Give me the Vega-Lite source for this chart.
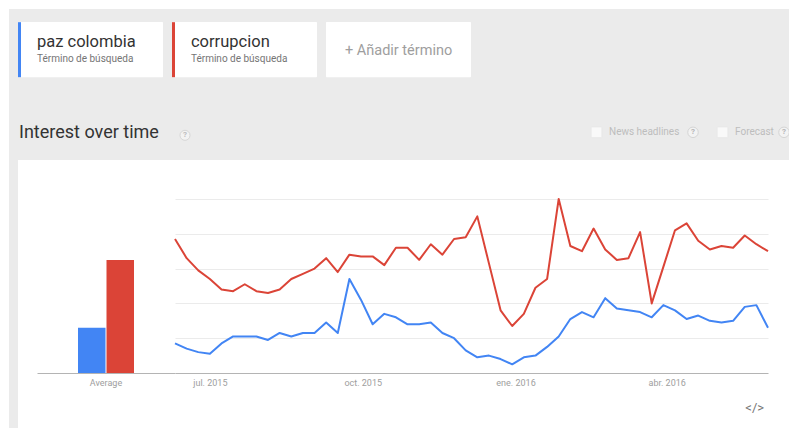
{
  "$schema": "https://vega.github.io/schema/vega-lite/v6.json",
  "background": "white",
  "padding": {"left": 9, "top": 9, "right": 0, "bottom": 0},
  "spacing": 0,
  "bounds": "flush",
  "config": {"font": "Roboto", "view": {"stroke": null}, "concat": {"spacing": 0}},
  "datasets": {
    "chips": [
      {"chip": "paz colombia", "sub": "Término de búsqueda", "kind": "term"},
      {"chip": "corrupcion", "sub": "Término de búsqueda", "kind": "term"},
      {"chip": "+ Añadir término", "sub": "", "kind": "add"}
    ],
    "average": [
      {"label": "Average", "term": "paz colombia", "avg": 26},
      {"label": "Average", "term": "corrupcion", "avg": 65}
    ],
    "weekly": [
      {"week": "2015-06-10", "paz colombia": 17, "corrupcion": 77},
      {"week": "2015-06-17", "paz colombia": 14, "corrupcion": 66},
      {"week": "2015-06-24", "paz colombia": 12, "corrupcion": 59},
      {"week": "2015-07-01", "paz colombia": 11, "corrupcion": 54},
      {"week": "2015-07-08", "paz colombia": 17, "corrupcion": 48},
      {"week": "2015-07-15", "paz colombia": 21, "corrupcion": 47},
      {"week": "2015-07-22", "paz colombia": 21, "corrupcion": 51},
      {"week": "2015-07-29", "paz colombia": 21, "corrupcion": 47},
      {"week": "2015-08-05", "paz colombia": 19, "corrupcion": 46},
      {"week": "2015-08-12", "paz colombia": 23, "corrupcion": 48},
      {"week": "2015-08-19", "paz colombia": 21, "corrupcion": 54},
      {"week": "2015-08-26", "paz colombia": 23, "corrupcion": 57},
      {"week": "2015-09-02", "paz colombia": 23, "corrupcion": 60},
      {"week": "2015-09-09", "paz colombia": 29, "corrupcion": 66},
      {"week": "2015-09-16", "paz colombia": 23, "corrupcion": 58},
      {"week": "2015-09-23", "paz colombia": 54, "corrupcion": 68},
      {"week": "2015-09-30", "paz colombia": 42, "corrupcion": 67},
      {"week": "2015-10-07", "paz colombia": 28, "corrupcion": 67},
      {"week": "2015-10-14", "paz colombia": 34, "corrupcion": 62},
      {"week": "2015-10-21", "paz colombia": 32, "corrupcion": 72},
      {"week": "2015-10-28", "paz colombia": 28, "corrupcion": 72},
      {"week": "2015-11-04", "paz colombia": 28, "corrupcion": 65},
      {"week": "2015-11-11", "paz colombia": 29, "corrupcion": 74},
      {"week": "2015-11-18", "paz colombia": 23, "corrupcion": 68},
      {"week": "2015-11-25", "paz colombia": 20, "corrupcion": 77},
      {"week": "2015-12-02", "paz colombia": 13, "corrupcion": 78},
      {"week": "2015-12-09", "paz colombia": 9, "corrupcion": 90},
      {"week": "2015-12-16", "paz colombia": 10, "corrupcion": 63},
      {"week": "2015-12-23", "paz colombia": 8, "corrupcion": 36},
      {"week": "2015-12-30", "paz colombia": 5, "corrupcion": 27},
      {"week": "2016-01-06", "paz colombia": 9, "corrupcion": 34},
      {"week": "2016-01-13", "paz colombia": 10, "corrupcion": 49},
      {"week": "2016-01-20", "paz colombia": 15, "corrupcion": 54},
      {"week": "2016-01-27", "paz colombia": 21, "corrupcion": 100},
      {"week": "2016-02-03", "paz colombia": 31, "corrupcion": 73},
      {"week": "2016-02-10", "paz colombia": 35, "corrupcion": 70},
      {"week": "2016-02-17", "paz colombia": 32, "corrupcion": 83},
      {"week": "2016-02-24", "paz colombia": 43, "corrupcion": 71},
      {"week": "2016-03-02", "paz colombia": 37, "corrupcion": 65},
      {"week": "2016-03-09", "paz colombia": 36, "corrupcion": 66},
      {"week": "2016-03-16", "paz colombia": 35, "corrupcion": 81},
      {"week": "2016-03-23", "paz colombia": 32, "corrupcion": 40},
      {"week": "2016-03-30", "paz colombia": 39, "corrupcion": 61},
      {"week": "2016-04-06", "paz colombia": 36, "corrupcion": 82},
      {"week": "2016-04-13", "paz colombia": 31, "corrupcion": 86},
      {"week": "2016-04-20", "paz colombia": 33, "corrupcion": 76},
      {"week": "2016-04-27", "paz colombia": 30, "corrupcion": 71},
      {"week": "2016-05-04", "paz colombia": 29, "corrupcion": 73},
      {"week": "2016-05-11", "paz colombia": 30, "corrupcion": 72},
      {"week": "2016-05-18", "paz colombia": 38, "corrupcion": 79},
      {"week": "2016-05-25", "paz colombia": 39, "corrupcion": 74},
      {"week": "2016-06-01", "paz colombia": 26, "corrupcion": 70}
    ]
  },
  "vconcat": [
    {
      "width": 780,
      "height": 151,
      "view": {"fill": "#ebebeb", "stroke": null},
      "resolve": {"scale": {"x": "independent"}},
      "layer": [
        {
          "data": {"name": "chips"},
          "encoding": {
            "x": {"field": "chip", "type": "nominal", "sort": null,
              "scale": {"type": "band", "domain": ["paz colombia", "corrupcion", "+ Añadir término"], "range": [9, 462], "paddingInner": 0.058, "paddingOuter": 0},
              "axis": null},
            "y": {"datum": "chips", "type": "nominal",
              "scale": {"type": "band", "domain": ["chips", "tools"], "range": [13, 151], "paddingInner": 0.33, "paddingOuter": 0},
              "axis": null}
          },
          "layer": [
            {"mark": {"type": "rect", "fill": "white", "cornerRadius": 1}},
            {
              "transform": [{"filter": "datum.kind === 'term'"}],
              "mark": {"type": "tick", "orient": "vertical", "thickness": 3, "size": 55, "xOffset": 1.5, "opacity": 1},
              "encoding": {
                "x": {"field": "chip", "type": "nominal", "bandPosition": 0},
                "color": {"field": "chip", "type": "nominal",
                  "scale": {"domain": ["paz colombia", "corrupcion"], "range": ["#4285f4", "#db4437"]},
                  "legend": null}
              }
            },
            {
              "transform": [{"filter": "datum.kind === 'term'"}],
              "mark": {"type": "text", "align": "left", "baseline": "middle", "dx": 19, "dy": -8, "fontSize": 16.5, "color": "#333333"},
              "encoding": {"x": {"field": "chip", "type": "nominal", "bandPosition": 0}, "text": {"field": "chip"}}
            },
            {
              "transform": [{"filter": "datum.kind === 'term'"}],
              "mark": {"type": "text", "align": "left", "baseline": "middle", "dx": 19, "dy": 9, "fontSize": 10, "color": "#757575"},
              "encoding": {"x": {"field": "chip", "type": "nominal", "bandPosition": 0}, "text": {"field": "sub"}}
            },
            {
              "transform": [{"filter": "datum.kind === 'add'"}],
              "mark": {"type": "text", "align": "left", "baseline": "middle", "dx": 19, "dy": 1, "fontSize": 14.5, "color": "#9e9e9e"},
              "encoding": {"x": {"field": "chip", "type": "nominal", "bandPosition": 0}, "text": {"field": "chip"}}
            }
          ]
        },
        {
          "data": {"values": [{"item": "Interest over time"}, {"item": "?"}]},
          "encoding": {
            "x": {"field": "item", "type": "nominal", "sort": null,
              "scale": {"type": "band", "domain": ["Interest over time", "?"], "range": [10, 342], "paddingInner": 0, "paddingOuter": 0},
              "axis": null},
            "y": {"datum": "tools", "type": "nominal",
              "scale": {"type": "band", "domain": ["chips", "tools"], "range": [13, 151], "paddingInner": 0.33, "paddingOuter": 0},
              "axis": null}
          },
          "layer": [
            {
              "transform": [{"filter": "datum.item !== '?'"}],
              "mark": {"type": "text", "align": "left", "baseline": "middle", "fontSize": 18, "dy": 1, "color": "#333333"},
              "encoding": {
                "x": {"field": "item", "type": "nominal", "bandPosition": 0},
                "text": {"field": "item"}
              }
            },
            {
              "transform": [{"filter": "datum.item === '?'"}],
              "mark": {"type": "point", "shape": "circle", "filled": true, "size": 100, "fill": "#f7f7f7", "stroke": "#cfcfcf", "strokeWidth": 1, "yOffset": 3},
              "encoding": {
                "x": {"field": "item", "type": "nominal", "bandPosition": 0}
              }
            },
            {
              "transform": [{"filter": "datum.item === '?'"}],
              "mark": {"type": "text", "align": "center", "baseline": "middle", "fontSize": 8, "fontWeight": "bold", "dy": 3, "color": "#bdbdbd"},
              "encoding": {
                "x": {"field": "item", "type": "nominal", "bandPosition": 0},
                "text": {"field": "item"}
              }
            }
          ]
        },
        {
          "data": {"values": [{"opt": "News headlines"}, {"opt": "Forecast"}]},
          "encoding": {
            "x": {"field": "opt", "type": "nominal", "sort": null,
              "scale": {"type": "band", "domain": ["News headlines", "Forecast"], "range": [582, 834], "paddingInner": 0, "paddingOuter": 0},
              "axis": null},
            "y": {"datum": "tools", "type": "nominal",
              "scale": {"type": "band", "domain": ["chips", "tools"], "range": [13, 151], "paddingInner": 0.33, "paddingOuter": 0},
              "axis": null}
          },
          "layer": [
            {
              "mark": {"type": "point", "shape": "square", "filled": true, "size": 110, "fill": "#ffffff", "stroke": "#e2e2e2", "strokeWidth": 0.5, "xOffset": 5.5},
              "encoding": {"x": {"field": "opt", "type": "nominal", "bandPosition": 0}}
            },
            {
              "mark": {"type": "text", "align": "left", "baseline": "middle", "dx": 18, "fontSize": 10, "color": "#bdbdbd"},
              "encoding": {
                "x": {"field": "opt", "type": "nominal", "bandPosition": 0},
                "text": {"field": "opt"}
              }
            }
          ]
        },
        {
          "data": {"values": [{"opt": "News headlines", "icon": "?"}, {"opt": "Forecast", "icon": "?"}]},
          "encoding": {
            "x": {"field": "opt", "type": "nominal", "sort": null,
              "scale": {"type": "band", "domain": ["News headlines", "Forecast"], "range": [684, 866], "paddingInner": 0, "paddingOuter": 0},
              "axis": null},
            "y": {"datum": "tools", "type": "nominal",
              "scale": {"type": "band", "domain": ["chips", "tools"], "range": [13, 151], "paddingInner": 0.33, "paddingOuter": 0},
              "axis": null}
          },
          "layer": [
            {
              "mark": {"type": "point", "shape": "circle", "filled": true, "size": 110, "fill": "#f7f7f7", "stroke": "#cccccc", "strokeWidth": 1},
              "encoding": {"x": {"field": "opt", "type": "nominal", "bandPosition": 0}}
            },
            {
              "mark": {"type": "text", "align": "center", "baseline": "middle", "fontSize": 8, "fontWeight": "bold", "color": "#b5b5b5"},
              "encoding": {
                "x": {"field": "opt", "type": "nominal", "bandPosition": 0},
                "text": {"field": "icon"}
              }
            }
          ]
        }
      ]
    },
    {
      "bounds": "flush",
      "spacing": 0,
      "hconcat": [
        {
          "width": 9,
          "height": 268,
          "view": {"fill": "#ebebeb", "stroke": null},
          "data": {"values": [{"pad": ""}]},
          "mark": {"type": "text", "opacity": 0},
          "encoding": {"text": {"field": "pad"}}
        },
        {
          "width": 157,
          "height": 213,
          "view": {"fill": "white", "stroke": null},
          "data": {"name": "average"},
          "mark": {"type": "bar"},
          "encoding": {
            "x": {"field": "label", "type": "nominal",
              "scale": {"range": [19, 157], "paddingInner": 0, "paddingOuter": 0.732},
              "axis": {"orient": "bottom", "title": null, "ticks": false, "tickSize": 0, "labelAngle": 0, "labelPadding": 5,
                "labelFontSize": 9, "labelColor": "#9e9e9e", "domainColor": "#b4b4b4", "domainWidth": 1}},
            "xOffset": {"field": "term", "type": "nominal", "sort": null,
              "scale": {"domain": ["paz colombia", "corrupcion"], "paddingInner": 0.035}},
            "y": {"field": "avg", "type": "quantitative", "scale": {"domain": [0, 122.4], "nice": false}, "axis": null},
            "color": {"field": "term", "type": "nominal",
              "scale": {"domain": ["paz colombia", "corrupcion"], "range": ["#4285f4", "#db4437"]},
              "legend": null}
          }
        },
        {
          "width": 614,
          "height": 213,
          "view": {"fill": "white", "stroke": null},
          "layer": [
            {
              "data": {"name": "weekly"},
              "transform": [{"fold": ["paz colombia", "corrupcion"], "as": ["term", "interest"]}],
              "mark": {"type": "line", "strokeWidth": 2, "interpolate": "linear", "strokeJoin": "round"},
              "encoding": {
                "x": {"field": "week", "type": "temporal",
                  "scale": {"type": "utc", "range": [0, 593], "nice": false},
                  "axis": {"orient": "bottom", "title": null, "grid": false, "ticks": false, "tickSize": 0, "labelPadding": 5,
                    "values": [
                      {"year": 2015, "month": 7, "date": 1, "utc": true},
                      {"year": 2015, "month": 10, "date": 1, "utc": true},
                      {"year": 2016, "month": 1, "date": 1, "utc": true},
                      {"year": 2016, "month": 4, "date": 1, "utc": true}
                    ],
                    "labelExpr": "['ene','feb','mar','abr','may','jun','jul','ago','sep','oct','nov','dic'][utcmonth(datum.value)] + '. ' + utcyear(datum.value)",
                    "labelFontSize": 9, "labelColor": "#9e9e9e", "labelOverlap": false, "labelFlush": false,
                    "domainColor": "#b4b4b4", "domainWidth": 1}},
                "y": {"field": "interest", "type": "quantitative",
                  "scale": {"domain": [0, 122.4], "nice": false},
                  "axis": {"grid": true, "values": [20, 40, 60, 80, 100], "labels": false, "ticks": false, "domain": false,
                    "title": null, "gridColor": "#ebebeb", "gridWidth": 1, "minExtent": 0, "maxExtent": 0}},
                "color": {"field": "term", "type": "nominal", "sort": null,
                  "scale": {"domain": ["paz colombia", "corrupcion"], "range": ["#4285f4", "#db4437"]},
                  "legend": null}
              }
            },
            {
              "data": {"values": [{"icon": "</>"}]},
              "mark": {"type": "text", "align": "center", "baseline": "middle", "fontSize": 13, "color": "#757575"},
              "encoding": {
                "x": {"datum": {"year": 2016, "month": 5, "date": 24, "utc": true}, "type": "temporal"},
                "y": {"datum": -20, "type": "quantitative"},
                "text": {"field": "icon"}
              }
            }
          ]
        }
      ]
    }
  ]
}
